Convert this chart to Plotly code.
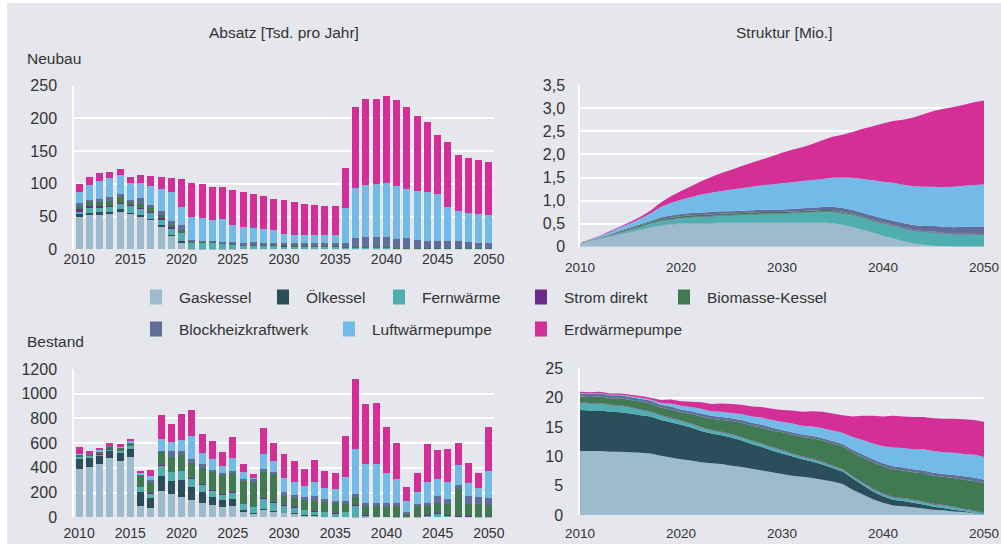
import plotly.graph_objects as go

# --- data -----------------------------------------------------------------
years = list(range(2010, 2051))

series_names = ["Gaskessel", "Ölkessel", "Fernwärme", "Strom direkt", "Biomasse-Kessel",
                "Blockheizkraftwerk", "Luftwärmepumpe", "Erdwärmepumpe"]
series_colors = ["#9dbbcc", "#2b4e5b", "#50adb0", "#6a2d8c", "#417a52",
                 "#5f6e9b", "#72bbe9", "#d32f97"]

# Absatz Neubau [Tsd. pro Jahr]
neu_gas = [49, 53, 53, 54.5, 58, 54.5, 50, 45.5, 36, 21, 11.5, 0.5, 0.5, 0.3, 0.3, 0.2,
           0.2, 0.2, 0.2, 0.2, 0.2, 0.1, 0.1, 0.1, 0.1, 0.1,
           0, 0, 0, 0, 0, 0, 0, 0, 0, 0, 0, 0, 0, 0, 0]
neu_oel = [5, 3, 3.5, 3, 3, 1.5, 3, 1.5, 0.5, 1, 1.5, 0.5, 0.3, 0.3, 0.2, 0.2,
           0, 0, 0, 0, 0, 0, 0, 0, 0, 0, 0, 0, 0, 0, 0, 0, 0, 0, 0, 0, 0, 0, 0, 0, 0]
neu_fern = [4.5, 9, 8.5, 8, 10, 11, 10, 9, 10, 10.5, 12.5, 10, 10, 9.5, 8.5, 7,
            6, 6, 5.5, 5.5, 5, 4.5, 4.5, 4.5, 4, 4, 3, 3, 2.5, 2.5, 2.5,
            2, 1.5, 2, 2, 2, 2, 2, 1.5, 1.5, 1.5]
neu_strom = [3, 0.5, 0.5, 1, 0.5, 0.5, 0.5, 1, 1, 1.5, 1, 0.5, 0.3, 0.2, 0.2, 1,
             0.3, 0.3, 0.3, 0.3, 0.3, 0.3, 0.3, 0.3, 0.3, 0.3, 0.3, 0.3, 0.3, 0.3, 0.3,
             0.3, 0.3, 0.3, 0.3, 0.3, 0.3, 0.3, 0.3, 0.3, 0.3]
neu_bio = [5, 7, 7, 7.5, 9, 5, 6, 6, 4.5, 3.5, 3, 1.5, 1, 1.5, 0.5, 0.5,
           0.5, 0.5, 0.5, 0.5, 0.5, 1, 0.5, 0.5, 0.5, 0.5, 0.3, 0.3, 0.3, 0.3, 0.3,
           0.3, 0.3, 0.3, 0.3, 0.3, 0.3, 0.3, 0.3, 0.3, 0.3]
neu_bhkw = [3.5, 3.5, 5, 6, 4.5, 3.5, 9, 4, 6.5, 6, 8, 1.5, 1, 1, 1.5, 2,
            3, 3.5, 3.5, 3.2, 3.7, 3.8, 4.3, 4.3, 4.8, 4.8, 6, 13.7, 15.7, 15.7, 15.7,
            13.2, 15.2, 11.7, 10.1, 10.1, 10.1, 10.1, 9.1, 7.6, 7.6]
neu_luft = [17.5, 23, 27.5, 29, 28, 26, 22.5, 30.5, 33.5, 44, 27, 34.5, 35, 32.5, 34.5, 25.5,
            23.5, 22, 21, 19.8, 13.8, 12.3, 12.3, 12.3, 12.3, 12.3, 53.3, 76.7, 79.7, 81.2, 82.7,
            81.2, 74.7, 74.7, 74.8, 71.8, 51.8, 45.8, 44.3, 44.3, 42.8]
neu_erd = [12.5, 12, 11, 9.5, 9, 9, 12, 15, 18.5, 22, 43.5, 52, 52, 50.5, 49, 54,
           53.5, 52, 50.5, 47.5, 52, 50.5, 47, 45.5, 44, 44, 62, 123.5, 131, 129.5, 132.5,
           131, 125.5, 114.5, 107, 90, 99.5, 85.5, 84, 82.5, 81]

# Absatz Bestand [Tsd. pro Jahr]
best_gas = [393, 406, 430, 476, 454, 484, 92, 73, 212, 185, 161, 137, 118, 97, 84, 92,
            44, 30, 66, 48, 36, 28, 15, 15, 5, 3, 4, 1, 0, 0, 0,
            0, 0, 0, 0, 0, 0, 0, 0, 0, 0]
best_oel = [86, 78, 67, 61, 70, 66, 109, 83, 123, 110, 144, 110, 83, 70, 53, 56,
            16, 8, 4, 3, 2, 3, 3, 2, 1, 1, 1, 1, 1, 0, 0,
            0, 0, 0, 0, 0, 0, 0, 0, 0, 0]
best_fern = [12, 12, 12, 13, 13, 27, 45, 35, 88, 72, 70, 69, 62, 50, 48, 51,
             48, 46, 83, 70, 57, 51, 43, 31, 37, 30, 38, 93, 12, 3, 3,
             2, 1, 2, 17, 30, 17, 8, 8, 2, 2]
best_strom = [3, 2, 2, 2, 2, 2, 2, 2, 3, 3, 3, 3, 3, 2, 2, 2,
              2, 2, 2, 2, 2, 2, 2, 2, 2, 2, 2, 2, 2, 2, 1,
              1, 1, 1, 1, 1, 1, 1, 1, 1, 1]
best_bio = [14, 14, 20, 20, 22, 19, 89, 96, 106, 114, 125, 122, 135, 148, 158, 160,
            185, 202, 219, 229, 79, 71, 79, 81, 80, 82, 67, 75, 84, 94, 78,
            95, 26, 88, 81, 86, 89, 217, 98, 104, 98]
best_bhkw = [4, 3, 5, 5, 5, 5, 8, 14, 5, 51, 32, 30, 30, 16, 14, 14,
             14, 22, 13, 14, 27, 27, 22, 41, 22, 16, 16, 16, 13, 13, 30,
             14, 14, 18, 13, 59, 40, 32, 65, 54, 52]
best_luft = [4, 3, 6, 6, 8, 11, 14, 34, 94, 72, 88, 184, 88, 88, 56, 104,
             60, 5, 124, 89, 112, 100, 86, 110, 87, 91, 197, 362, 316, 316, 243,
             195, 86, 92, 175, 130, 135, 162, 102, 73, 219]
best_erd = [52, 16, 18, 16, 16, 19, 16, 48, 200, 144, 216, 210, 152, 144, 112, 168,
            62, 38, 210, 145, 194, 171, 138, 179, 138, 130, 330, 568, 487, 495, 373,
            292, 114, 154, 308, 235, 268, 179, 162, 121, 356]

# Struktur Neubau [Mio.]
sn_gas = [0.08, 0.12, 0.17, 0.22, 0.27, 0.32, 0.37, 0.42, 0.46, 0.48, 0.50, 0.51, 0.51, 0.51,
          0.52, 0.52, 0.52, 0.52, 0.52, 0.52, 0.52, 0.52, 0.52, 0.52, 0.52, 0.51, 0.47, 0.42,
          0.36, 0.30, 0.24, 0.18, 0.12, 0.07, 0.04, 0.02, 0.01, 0, 0, 0, 0]
sn_oel = [0, 0, 0.005, 0.005, 0.005, 0.005, 0.005, 0.005, 0.005, 0.005, 0.005, 0.005, 0.005,
          0.005, 0.005, 0.005, 0.005, 0.005, 0.005, 0.005, 0.005, 0.005, 0.005, 0.005, 0.005,
          0.005, 0, 0, 0, 0, 0, 0, 0, 0, 0, 0, 0, 0, 0, 0, 0]
sn_fern = [0, 0.005, 0.01, 0.02, 0.03, 0.04, 0.05, 0.07, 0.09, 0.10, 0.11, 0.12, 0.13, 0.14,
           0.15, 0.15, 0.16, 0.17, 0.18, 0.18, 0.19, 0.20, 0.21, 0.22, 0.23, 0.24, 0.25, 0.26,
           0.26, 0.26, 0.26, 0.27, 0.27, 0.27, 0.28, 0.29, 0.27, 0.26, 0.26, 0.26, 0.25]
sn_strom = [0, 0, 0, 0, 0.01, 0.01, 0.01, 0.01, 0.01, 0.01, 0.01, 0.01, 0.01, 0.01, 0.01,
            0.01, 0.01, 0.01, 0.01, 0.01, 0.01, 0.01, 0.01, 0.01, 0.01, 0.01, 0.01, 0.01,
            0.01, 0.01, 0.01, 0.01, 0.01, 0.01, 0.01, 0.01, 0.01, 0.01, 0.01, 0.01, 0.01]
sn_bio = [0, 0.01, 0.01, 0.015, 0.02, 0.025, 0.03, 0.03, 0.035, 0.035, 0.035, 0.035, 0.035,
          0.035, 0.035, 0.035, 0.035, 0.035, 0.035, 0.035, 0.03, 0.03, 0.03, 0.03, 0.03, 0.03,
          0.03, 0.025, 0.02, 0.02, 0.02, 0.015, 0.015, 0.01, 0.01, 0.01, 0.01, 0.01, 0.01,
          0.01, 0.01]
sn_bhkw = [0, 0.005, 0.01, 0.01, 0.015, 0.02, 0.025, 0.03, 0.04, 0.045, 0.05, 0.05, 0.05,
           0.05, 0.05, 0.05, 0.05, 0.05, 0.05, 0.05, 0.05, 0.055, 0.06, 0.06, 0.065, 0.07,
           0.08, 0.08, 0.08, 0.08, 0.08, 0.09, 0.10, 0.11, 0.11, 0.12, 0.13, 0.14, 0.15,
           0.16, 0.17]
sn_luft = [0, 0.01, 0.03, 0.05, 0.07, 0.09, 0.12, 0.16, 0.22, 0.27, 0.31, 0.35, 0.39, 0.42,
           0.44, 0.47, 0.49, 0.51, 0.53, 0.55, 0.57, 0.58, 0.59, 0.60, 0.61, 0.63, 0.66, 0.70,
           0.74, 0.77, 0.80, 0.82, 0.83, 0.84, 0.85, 0.85, 0.86, 0.88, 0.89, 0.90, 0.91]
sn_erd = [0, 0.01, 0.01, 0.02, 0.02, 0.03, 0.04, 0.06, 0.10, 0.15, 0.19, 0.23, 0.29, 0.34,
          0.39, 0.43, 0.48, 0.52, 0.56, 0.61, 0.66, 0.70, 0.73, 0.78, 0.84, 0.89, 0.93, 0.99,
          1.09, 1.17, 1.26, 1.34, 1.41, 1.49, 1.57, 1.64, 1.70, 1.73, 1.76, 1.79, 1.82]

# Struktur Bestand [Mio.]
sb_gas = [10.9, 10.9, 10.9, 10.8, 10.8, 10.7, 10.6, 10.5, 10.1, 9.8, 9.5, 9.3, 9.0, 8.8,
          8.7, 8.4, 8.2, 7.9, 7.6, 7.3, 7.0, 6.7, 6.5, 6.3, 6.0, 5.7, 5.3, 4.3, 3.5, 2.7,
          2.1, 1.6, 1.5, 1.3, 1.1, 0.9, 0.8, 0.6, 0.5, 0.3, 0.0]
sb_oel = [7.0, 6.9, 6.9, 6.8, 6.7, 6.6, 6.4, 6.3, 6.1, 6.0, 5.9, 5.6, 5.3, 5.1, 4.9, 4.8,
          4.5, 4.2, 4.0, 3.7, 3.5, 3.3, 3.0, 2.8, 2.6, 2.3, 2.1, 1.9, 1.6, 1.3, 1.1, 1.0,
          0.9, 0.8, 0.7, 0.5, 0.4, 0.3, 0.2, 0.1, 0.0]
sb_fern = [1.2, 1.2, 1.2, 1.1, 1.1, 1.0, 0.9, 0.8, 0.7, 0.7, 0.6, 0.6, 0.6, 0.5, 0.5, 0.5,
           0.5, 0.5, 0.5, 0.5, 0.5, 0.4, 0.4, 0.4, 0.4, 0.3, 0.3, 0.3, 0.3, 0.4, 0.4, 0.4,
           0.4, 0.4, 0.4, 0.4, 0.4, 0.4, 0.3, 0.3, 0.3]
sb_strom = [0.1] * 41
sb_bio = [1.0, 1.0, 1.1, 1.1, 1.2, 1.2, 1.3, 1.3, 1.3, 1.4, 1.4, 1.6, 1.8, 1.9, 2.0, 2.2,
          2.4, 2.5, 2.7, 2.8, 3.0, 3.2, 3.3, 3.5, 3.6, 3.8, 3.9, 4.1, 4.3, 4.5, 4.6, 4.7,
          4.7, 4.7, 4.8, 4.8, 4.8, 4.9, 4.9, 5.0, 5.0]
sb_bhkw = [0.5, 0.5, 0.5, 0.5, 0.5, 0.5, 0.5, 0.5, 0.5, 0.5, 0.5, 0.5, 0.5, 0.5, 0.5, 0.5,
           0.5, 0.5, 0.5, 0.5, 0.4, 0.4, 0.4, 0.4, 0.4, 0.4, 0.4, 0.4, 0.5, 0.5, 0.5, 0.5,
           0.5, 0.5, 0.5, 0.5, 0.5, 0.5, 0.6, 0.6, 0.6]
sb_luft = [0.1, 0.1, 0.1, 0.1, 0.1, 0.15, 0.2, 0.2, 0.3, 0.5, 0.6, 0.7, 0.8, 0.8, 0.9, 0.9,
           1.0, 1.1, 1.2, 1.3, 1.4, 1.5, 1.5, 1.6, 1.7, 1.8, 1.9, 2.2, 2.5, 2.7, 2.9, 3.2,
           3.3, 3.4, 3.6, 3.7, 3.7, 3.8, 3.8, 3.9, 3.9]
sb_erd = [0.2, 0.2, 0.2, 0.2, 0.2, 0.25, 0.3, 0.3, 0.5, 0.7, 0.8, 0.9, 1.1, 1.2, 1.4, 1.5,
          1.6, 1.7, 1.8, 1.9, 2.0, 2.2, 2.4, 2.6, 2.8, 2.9, 3.0, 3.5, 4.1, 4.7, 5.1, 5.4,
          5.4, 5.5, 5.5, 5.6, 5.7, 5.8, 5.9, 5.9, 6.0]

bar_ticks = [2010, 2015, 2020, 2025, 2030, 2035, 2040, 2045, 2050]
area_ticks = [2010, 2020, 2030, 2040, 2050]
neu_struct_ticks = [0, 0.5, 1, 1.5, 2, 2.5, 3, 3.5]
neu_struct_labels = ["0", "0,5", "1,0", "1,5", "2,0", "2,5", "3,0", "3,5"]

absatz_neu = [neu_gas, neu_oel, neu_fern, neu_strom, neu_bio, neu_bhkw, neu_luft, neu_erd]
absatz_best = [best_gas, best_oel, best_fern, best_strom, best_bio, best_bhkw, best_luft, best_erd]
struktur_neu = [sn_gas, sn_oel, sn_fern, sn_strom, sn_bio, sn_bhkw, sn_luft, sn_erd]
struktur_best = [sb_gas, sb_oel, sb_fern, sb_strom, sb_bio, sb_bhkw, sb_luft, sb_erd]

# --- layout helpers (pixel -> paper) ---------------------------------------
W, H = 1001, 544
BG = "#e6e6ed"
TXT = "#333333"
FONT = "Liberation Sans, Arial, sans-serif"


def px_x(a, b):
    return [a / W, b / W]


def px_y(top, bottom):
    return [1 - bottom / H, 1 - top / H]


fig = go.Figure()

for name, color, vals in zip(series_names, series_colors, absatz_neu):
    fig.add_trace(go.Bar(x=years, y=vals, name=name, marker_color=color,
                         marker_line_width=0, xaxis="x", yaxis="y", showlegend=False))
for name, color, vals in zip(series_names, series_colors, absatz_best):
    fig.add_trace(go.Bar(x=years, y=vals, name=name, marker_color=color,
                         marker_line_width=0, xaxis="x3", yaxis="y3", showlegend=False))
for name, color, vals in zip(series_names, series_colors, struktur_neu):
    fig.add_trace(go.Scatter(x=years, y=vals, name=name, stackgroup="neu", mode="none",
                             fillcolor=color, xaxis="x2", yaxis="y2", showlegend=False))
for name, color, vals in zip(series_names, series_colors, struktur_best):
    fig.add_trace(go.Scatter(x=years, y=vals, name=name, stackgroup="best", mode="none",
                             fillcolor=color, xaxis="x4", yaxis="y4", showlegend=False))

tick_font_x = dict(family=FONT, size=14, color=TXT)
tick_font_x_area = dict(family=FONT, size=13.5, color=TXT)
tick_font_y = dict(family=FONT, size=16, color=TXT)


def xaxis(domain, anchor, rng, ticks, standoff, font=tick_font_x):
    return dict(domain=domain, anchor=anchor, range=rng, tickvals=ticks, showgrid=False,
                zeroline=False, showline=False, ticks="", tickfont=font,
                ticklabelstandoff=standoff, ticklabeloverflow="allow",
                automargin=False, fixedrange=True)


def yaxis(domain, anchor, rng, ticks, standoff, labels=None):
    d = dict(domain=domain, anchor=anchor, range=rng, tickvals=ticks, showgrid=True,
             gridcolor="white", gridwidth=1.5, zeroline=False, showline=True,
             linecolor="white", linewidth=1.5, ticks="", tickfont=tick_font_y,
             ticklabelstandoff=standoff, automargin=False, fixedrange=True)
    if labels:
        d["ticktext"] = labels
    return d


fig.update_layout(
    template="none",
    width=W, height=H,
    margin=dict(l=0, r=0, t=0, b=0, pad=0, autoexpand=False),
    paper_bgcolor="white", plot_bgcolor=BG,
    barmode="stack", bargap=0.32,
    font=dict(family=FONT, color=TXT),
    xaxis=xaxis(px_x(74, 494), "y", [2009.5, 2050.5], bar_ticks, 0),
    yaxis=yaxis(px_y(85.7, 249.3), "x", [0, 250], [0, 50, 100, 150, 200, 250], 12),
    xaxis2=xaxis(px_x(580, 984), "y2", [2010, 2050], area_ticks, 11, tick_font_x_area),
    yaxis2=yaxis(px_y(85.3, 246.7), "x2", [0, 3.5], neu_struct_ticks, 10, neu_struct_labels),
    xaxis3=xaxis(px_x(74, 494), "y3", [2009.5, 2050.5], bar_ticks, 6),
    yaxis3=yaxis(px_y(369, 517.3), "x3", [0, 1200], [0, 200, 400, 600, 800, 1000, 1200], 12),
    xaxis4=xaxis(px_x(580, 984), "y4", [2010, 2050], area_ticks, 8, tick_font_x_area),
    yaxis4=yaxis(px_y(368.3, 515), "x4", [0, 25], [0, 5, 10, 15, 20, 25], 12),
)

# grey panel background (thin white border on top/left as in the original)
shapes = [dict(type="rect", xref="paper", yref="paper", x0=7 / W, x1=1, y0=0, y1=1 - 3 / H,
               fillcolor=BG, line_width=0, layer="below")]

annotations = []


def add_text(text, x, y, xanchor="left", size=15.5):
    annotations.append(dict(text=text, x=x / W, y=1 - y / H, xref="paper", yref="paper",
                            xanchor=xanchor, yanchor="middle", showarrow=False,
                            font=dict(family=FONT, size=size, color=TXT)))


add_text("Absatz [Tsd. pro Jahr]", 283.5, 32, "center")
add_text("Struktur [Mio.]", 784, 32, "center")
add_text("Neubau", 25, 59)
add_text("Bestand", 25, 341)

# hand-placed legend (two rows as in the original)
legend_rows = [(297, [177, 304, 420, 562, 705]), (329, [177, 370, 562])]
idx = 0
for row_y, xs in legend_rows:
    for tx in xs:
        shapes.append(dict(type="rect", xref="paper", yref="paper",
                           x0=(tx - 27) / W, x1=(tx - 15) / W,
                           y0=1 - (row_y + 7.5) / H, y1=1 - (row_y - 7.5) / H,
                           fillcolor=series_colors[idx], line_width=0))
        add_text(series_names[idx], tx, row_y)
        idx += 1

fig.update_layout(shapes=shapes, annotations=annotations)
# the page body has a default 8px margin; drop it so the figure sits at (0, 0)
fig.write_html("out.html", config={"displayModeBar": False},
               post_script="document.body.style.margin = '0';")
